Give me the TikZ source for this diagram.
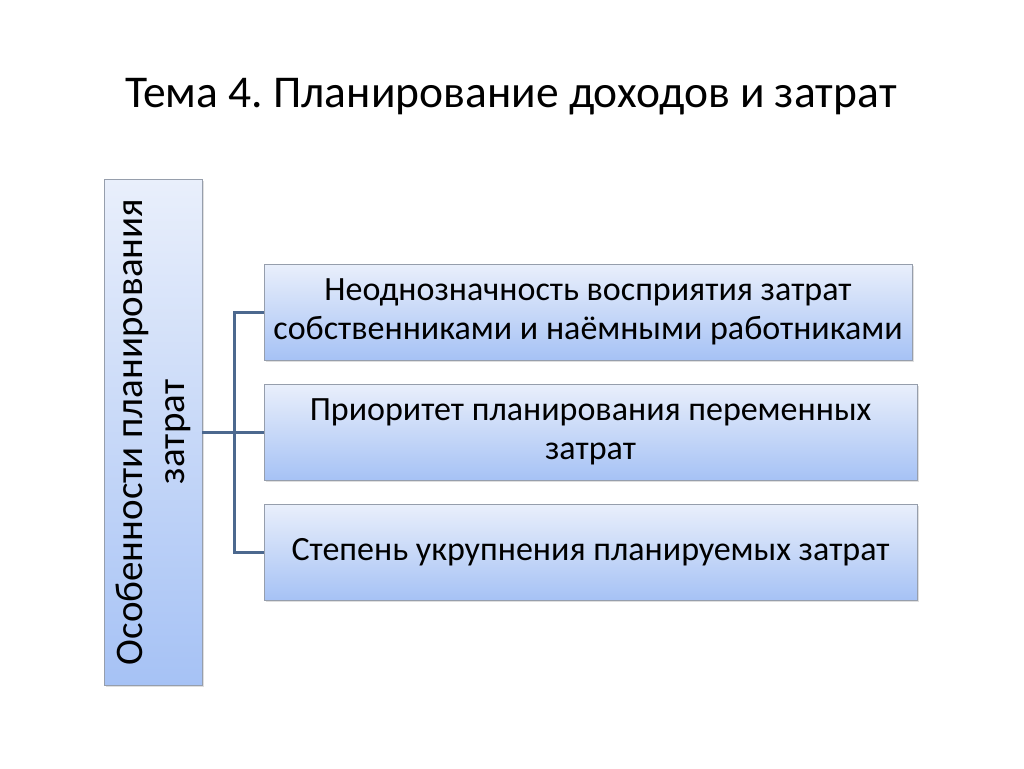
\documentclass[tikz,border=0pt]{standalone}
\usepackage{fontspec}
\setmainfont{Carlito}
\usetikzlibrary{shadows}
\frenchspacing
\definecolor{boxtop}{RGB}{233,239,251}
\definecolor{boxbot}{RGB}{166,194,245}
\definecolor{boxline}{RGB}{150,158,172}
\definecolor{linkc}{RGB}{76,104,142}
\tikzset{fadeshadow/.style={drop shadow={opacity=0.25, shadow xshift=1.5pt, shadow yshift=-2pt}}}

\begin{document}
\begin{tikzpicture}[x=1pt, y=-1pt, thick,
  item/.style = {draw=boxline, line width=0.8pt, top color=boxtop, bottom color=boxbot, fadeshadow,
    minimum height=96pt, align=center, font=\fontsize{34}{39}\selectfont},
  link/.style = {draw=linkc, line width=3pt}]
\useasboundingbox (0,0) rectangle (1024,768);
\node (title) at (511,97) {\fontsize{45.5}{52}\selectfont Тема 4. Планирование доходов и затрат};
\node[draw=boxline, line width=0.8pt, top color=boxtop, bottom color=boxbot, fadeshadow, rotate=90,
  minimum width=506pt, minimum height=98pt, align=center, font=\fontsize{39}{42}\selectfont]
  (side) at (153,432) {Особенности планирования\\затрат};
\node[item, minimum width=648pt] (b1) at (588,312) {Неоднозначность восприятия затрат\\собственниками и наёмными работниками};
\node[item, minimum width=653pt] (b2) at (590.5,432) {Приоритет планирования переменных\\затрат};
\node[item, minimum width=653pt] (b3) at (590.5,552) {Степень укрупнения планируемых затрат};
\coordinate (bus) at (234,432);
\draw[link] (b1.west) -| (bus) |- (b3.west);
\draw[link] (side.south) -- (b2.west);
\end{tikzpicture}
\end{document}
